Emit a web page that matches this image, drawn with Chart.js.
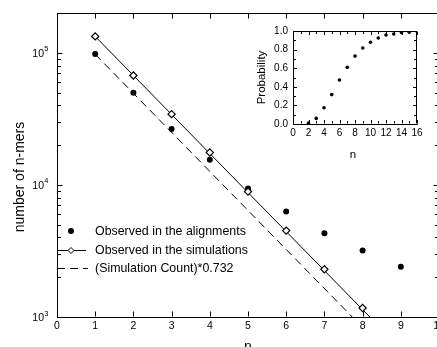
<!DOCTYPE html>
<html><head><meta charset="utf-8">
<script src="https://cdn.jsdelivr.net/npm/chart.js@4/dist/chart.umd.min.js"></script>
<style>
html,body{margin:0;padding:0;background:#fff;overflow:hidden;width:437px;height:347px;}
#c1{position:absolute;left:0;top:0;}
#c2{position:absolute;left:250px;top:20px;}
</style></head><body>
<canvas id="c1" width="460" height="347"></canvas>
<canvas id="c2" width="180" height="150"></canvas>
<script>
// ---- data ----
const nValues = [1, 2, 3, 4, 5, 6, 7, 8, 9];
const observedCounts = [98000, 49800, 26500, 15500, 9400, 6300, 4300, 3180, 2400];
const simN = [1, 2, 3, 4, 5, 6, 7, 8];
const simulationCounts = [133000, 67300, 34300, 17600, 8900, 4510, 2300, 1170];
const fitLineN = [1, 8.19];
const fitLineCounts = [133000, 1000];
const scaledLineN = [1, 7.73];
const scaledLineCounts = [97400, 1000];
const xTicksMain = [0, 1, 2, 3, 4, 5, 6, 7, 8, 9, 10];
const yTicksMain = [1000, 10000, 100000];
const yExponents = ['3', '4', '5'];
const legendLabels = ['Observed in the alignments', 'Observed in the simulations', '(Simulation Count)*0.732'];
const xTitle = 'n';
const yTitle = 'number of n-mers';

const insetN = [2, 3, 4, 5, 6, 7, 8, 9, 10, 11, 12, 13, 14, 15, 16];
const insetProb = [0.01, 0.06, 0.174, 0.316, 0.473, 0.609, 0.73, 0.818, 0.879, 0.925, 0.957, 0.968, 0.983, 0.986, 0.997];
const insetXTicks = [0, 2, 4, 6, 8, 10, 12, 14, 16];
const insetYTicks = [0, 0.2, 0.4, 0.6, 0.8, 1.0];
const insetXTitle = 'n';
const insetYTitle = 'Probability';

const FONT = 'Liberation Sans, Arial, sans-serif';
const pts = (xs, ys) => xs.map((x, i) => ({x: x, y: ys[i]}));

function line(ctx, x1, y1, x2, y2) {
  ctx.beginPath(); ctx.moveTo(x1, y1); ctx.lineTo(x2, y2); ctx.stroke();
}

// ---- main chart plugin: frame, inward ticks, labels, titles, legend ----
const mainDeco = {
  id: 'mainDeco',
  afterDraw(chart) {
    const ctx = chart.ctx, a = chart.chartArea;
    const xs = chart.scales.x, ys = chart.scales.y;
    ctx.save();
    ctx.strokeStyle = '#000'; ctx.lineWidth = 1;
    const L = Math.round(a.left) + 0.5, R = Math.round(a.right) - 0.5;
    const T = Math.round(a.top) + 0.5, B = Math.round(a.bottom) - 0.5;
    line(ctx, L, T, R, T);
    line(ctx, R, T, R, B);
    // x ticks (inward)
    xTicksMain.forEach(v => {
      const px = Math.round(xs.getPixelForValue(v)) + 0.5;
      line(ctx, px, B, px, B - 5);
      line(ctx, px, T, px, T + 5);
    });
    // y ticks (log, inward)
    for (let d = 1000; d <= 100000; d *= 10) {
      for (let m = 1; m <= 9; m++) {
        const v = d * m;
        if (v < ys.min || v > ys.max) continue;
        const py = Math.round(ys.getPixelForValue(v)) + 0.5;
        const len = m === 1 ? 5 : 3.5;
        line(ctx, L, py, L + len, py);
        line(ctx, R, py, R - len, py);
      }
    }
    // y labels 10^k
    ctx.fillStyle = '#000';
    yTicksMain.forEach((v, i) => {
      const py = ys.getPixelForValue(v);
      ctx.font = '10.5px ' + FONT;
      ctx.textAlign = 'right'; ctx.textBaseline = 'alphabetic';
      ctx.fillText('10', 44, py + 4);
      ctx.font = '7.5px ' + FONT;
      ctx.textAlign = 'left';
      ctx.fillText(yExponents[i], 44.3, py - 1.5);
    });
    // titles
    ctx.font = '14px ' + FONT;
    ctx.textAlign = 'center'; ctx.textBaseline = 'alphabetic';
    ctx.fillText(xTitle, (xs.getPixelForValue(5)), 351);
    ctx.save();
    ctx.translate(20, 177);
    ctx.rotate(-Math.PI / 2);
    ctx.textBaseline = 'middle';
    ctx.fillText(yTitle, 0, 0);
    ctx.restore();
    // legend
    const ds = chart.data.datasets;
    const rows = [231, 250, 268];
    ctx.font = '12.4px ' + FONT;
    ctx.textAlign = 'left'; ctx.textBaseline = 'middle';
    // row 1: filled dot
    ctx.beginPath(); ctx.arc(71, rows[0], ds[0].pointRadius, 0, Math.PI * 2);
    ctx.fillStyle = ds[0].backgroundColor; ctx.fill();
    // row 2: line with diamond
    ctx.strokeStyle = ds[2].borderColor; ctx.lineWidth = ds[2].borderWidth;
    line(ctx, 57, rows[1] + 0.5, 86, rows[1] + 0.5);
    ctx.beginPath();
    const r = 3;
    ctx.moveTo(71, rows[1] + 0.5 - r); ctx.lineTo(71 + r, rows[1] + 0.5);
    ctx.lineTo(71, rows[1] + 0.5 + r); ctx.lineTo(71 - r, rows[1] + 0.5); ctx.closePath();
    ctx.fillStyle = '#fff'; ctx.fill(); ctx.lineWidth = 1; ctx.stroke();
    // row 3: dashed
    ctx.setLineDash(ds[3].borderDash);
    line(ctx, 57, rows[2] + 0.5, 88, rows[2] + 0.5);
    ctx.setLineDash([]);
    ctx.fillStyle = '#000';
    legendLabels.forEach((t, i) => ctx.fillText(t, 95, rows[i] + 0.5));
    ctx.restore();
  }
};

new Chart(document.getElementById('c1'), {
  type: 'scatter',
  data: {
    datasets: [
      {label: legendLabels[0], data: pts(nValues, observedCounts), pointRadius: 3,
       backgroundColor: '#000', borderColor: '#000', borderWidth: 0, showLine: false, order: 1},
      {label: legendLabels[1], data: pts(simN, simulationCounts), pointStyle: 'rectRot', pointRadius: 3.6,
       backgroundColor: '#fff', borderColor: '#000', borderWidth: 1.2, showLine: false, order: 0},
      {label: 'fit', data: pts(fitLineN, fitLineCounts), showLine: true, pointRadius: 0,
       borderColor: '#000', borderWidth: 1, order: 2},
      {label: legendLabels[2], data: pts(scaledLineN, scaledLineCounts), showLine: true, pointRadius: 0,
       borderColor: '#000', borderWidth: 1, borderDash: [8, 5], order: 3}
    ]
  },
  options: {
    responsive: false, animation: false, devicePixelRatio: 1,
    layout: {padding: {left: 0, top: 13, right: 21, bottom: 0}},
    plugins: {legend: {display: false}, tooltip: {enabled: false}},
    scales: {
      x: {type: 'linear', min: 0, max: 10,
          afterBuildTicks: s => { s.ticks = xTicksMain.map(v => ({value: v})); },
          afterFit: s => { s.height = 30; },
          grid: {display: false, drawTicks: false},
          border: {display: true, color: '#000', width: 1},
          ticks: {font: {family: FONT, size: 10.5}, color: '#000', padding: 3, maxRotation: 0, autoSkip: false}},
      y: {type: 'logarithmic', min: 1000, max: 200000,
          afterBuildTicks: s => { s.ticks = yTicksMain.map(v => ({value: v})); },
          afterFit: s => { s.width = 57; },
          grid: {display: false, drawTicks: false},
          border: {display: true, color: '#000', width: 1},
          ticks: {display: false}}
    }
  },
  plugins: [mainDeco]
});

// ---- inset ----
const insetDeco = {
  id: 'insetDeco',
  afterDraw(chart) {
    const ctx = chart.ctx, a = chart.chartArea;
    const xs = chart.scales.x, ys = chart.scales.y;
    ctx.save();
    ctx.strokeStyle = '#000'; ctx.lineWidth = 1;
    const L = Math.round(a.left) + 0.5, R = Math.round(a.right) - 0.5;
    const T = Math.round(a.top) + 0.5, B = Math.round(a.bottom) - 0.5;
    line(ctx, L, T, R, T);
    line(ctx, R, T, R, B);
    for (let v = 0; v <= 16; v++) {
      const px = Math.round(xs.getPixelForValue(v)) + 0.5;
      const len = v % 2 === 0 ? 3.5 : 2.5;
      line(ctx, px, B, px, B - len);
      line(ctx, px, T, px, T + len);
    }
    for (let k = 0; k <= 10; k++) {
      const py = Math.round(ys.getPixelForValue(k / 10)) + 0.5;
      const len = k % 2 === 0 ? 3.5 : 2.5;
      line(ctx, L, py, L + len, py);
      line(ctx, R, py, R - len, py);
    }
    ctx.fillStyle = '#000';
    ctx.font = '11.5px ' + FONT;
    ctx.textAlign = 'center';
    ctx.textBaseline = 'middle';
    ctx.fillText(insetXTitle, (a.left + a.right) / 2 - 2, 135);
    ctx.save();
    ctx.translate(12, (a.top + a.bottom) / 2);
    ctx.rotate(-Math.PI / 2);
    ctx.fillText(insetYTitle, 0, 0);
    ctx.restore();
    ctx.restore();
  }
};

new Chart(document.getElementById('c2'), {
  type: 'scatter',
  data: {datasets: [{data: pts(insetN, insetProb), pointRadius: 1.8, backgroundColor: '#000',
                     borderColor: '#000', borderWidth: 0, showLine: false}]},
  options: {
    responsive: false, animation: false, devicePixelRatio: 1,
    layout: {padding: {left: 0, top: 11, right: 13, bottom: 0}},
    plugins: {legend: {display: false}, tooltip: {enabled: false}},
    scales: {
      x: {type: 'linear', min: 0, max: 16,
          afterBuildTicks: s => { s.ticks = insetXTicks.map(v => ({value: v})); },
          afterFit: s => { s.height = 46; },
          grid: {display: false, drawTicks: false},
          border: {display: true, color: '#000', width: 1},
          ticks: {font: {family: FONT, size: 10}, color: '#000', padding: 3, maxRotation: 0, autoSkip: false}},
      y: {type: 'linear', min: 0, max: 1,
          afterBuildTicks: s => { s.ticks = insetYTicks.map(v => ({value: v})); },
          afterFit: s => { s.width = 43; },
          grid: {display: false, drawTicks: false},
          border: {display: true, color: '#000', width: 1},
          ticks: {font: {family: FONT, size: 10}, color: '#000', padding: 5,
                  callback: v => Number(v).toFixed(1)}}
    }
  },
  plugins: [insetDeco]
});
</script>
</body></html>
